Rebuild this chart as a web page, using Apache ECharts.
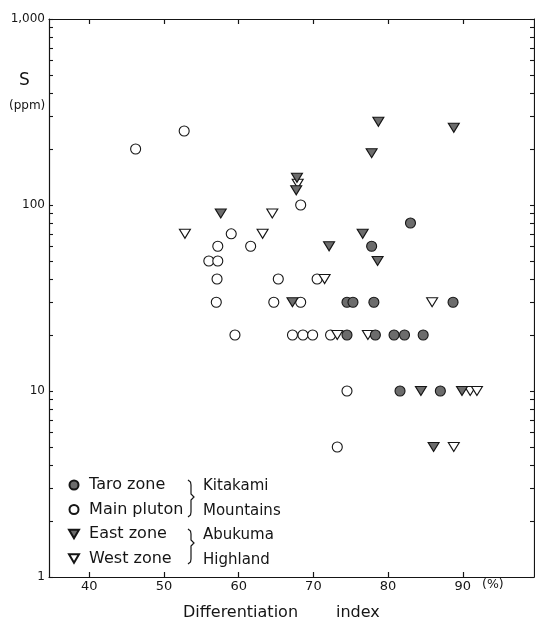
<!DOCTYPE html>
<html>
<head>
<meta charset="utf-8">
<script src="https://cdn.jsdelivr.net/npm/echarts@6/dist/echarts.min.js"></script>
<style>html,body{margin:0;padding:0;background:#fff}#c{width:535px;height:622px}</style>
</head>
<body>
<div id="c"></div>
<script>
// ---- data ----
const taroX = [83.0, 77.8, 74.5, 75.3, 78.1, 88.7, 74.5, 78.3, 80.8, 82.2, 84.7, 81.6, 87.0];
const taroS = [80, 60, 30, 30, 30, 30, 20, 20, 20, 20, 20, 10, 10];

const mainX = [46.2, 52.7, 59.0, 57.2, 61.6, 56.0, 57.2, 57.1, 65.3, 57.0, 64.7, 68.3, 59.5, 67.2, 68.6, 69.9, 72.3, 68.3, 70.5, 74.5, 73.2];
const mainS = [200, 250, 70, 60, 60, 50, 50, 40, 40, 30, 30, 30, 20, 20, 20, 20, 20, 100, 40, 10, 5];

const eastX = [57.6, 67.8, 67.7, 78.7, 88.8, 77.8, 76.6, 72.1, 78.6, 67.2, 84.4, 89.9, 86.1];
const eastS = [90, 140, 120, 280, 260, 190, 70, 60, 50, 30, 10, 10, 5];

const westX = [52.8, 63.2, 64.5, 67.9, 71.5, 85.9, 73.2, 77.3, 91.0, 91.9, 88.8];
const westS = [70, 70, 90, 130, 40, 30, 20, 20, 10, 10, 5];

const xTicks = [40, 50, 60, 70, 80, 90];
const yTickMarks = [1, 2, 3, 4, 5, 6, 7, 8, 9, 10, 20, 30, 40, 50, 60, 70, 80, 90,
                    100, 200, 300, 400, 500, 600, 700, 800, 900, 1000];
const yLabels = [1, 10, 100, 1000];

const seriesNames = ['Taro zone', 'Main pluton', 'East zone', 'West zone'];
const regionNames = ['Kitakami', 'Mountains', 'Abukuma', 'Highland'];

// ---- chart ----
const FONT = 'DejaVu Sans';
const INK = '#151515';
const GRAY = '#6c6c6c';
const DOWN_TRI = 'path://M0,0L10,0L5,8.66Z';
const pairs = (xs, ys) => xs.map((x, i) => [x, ys[i]]);

const chart = echarts.init(document.getElementById('c'), null, {renderer: 'canvas'});

const xCommon = {
  type: 'value', min: 34.6, max: 99.54,
  axisLine: {show: true, lineStyle: {color: INK, width: 1.2}},
  splitLine: {show: false}
};
const yCommon = {
  type: 'log', logBase: 10, min: 1, max: 1000,
  axisLine: {show: true, lineStyle: {color: INK, width: 1.2}},
  splitLine: {show: false},
  minorTick: {show: false}
};

const brace = (x, top, mid, bot) => ({
  type: 'polyline',
  shape: {points: [[x, top], [x + 2.5, top + 2], [x + 3, top + 5], [x + 3, mid - 3], [x + 6, mid],
                   [x + 3, mid + 3], [x + 3, bot - 5], [x + 2.5, bot - 2], [x, bot]]},
  style: {fill: null, stroke: INK, lineWidth: 1.2}
});

const option = {
  animation: false,
  backgroundColor: '#fff',
  grid: {left: 49, right: 1, top: 19, bottom: 45, containLabel: false},
  xAxis: [
    Object.assign({}, xCommon, {
      position: 'bottom',
      axisTick: {show: true, inside: true, length: 5, customValues: xTicks, lineStyle: {color: INK, width: 1.2}},
      axisLabel: {show: true, customValues: xTicks, margin: 3, fontFamily: FONT, fontSize: 13, color: INK}
    }),
    Object.assign({}, xCommon, {
      position: 'top',
      axisTick: {show: true, inside: true, length: 5, customValues: xTicks, lineStyle: {color: INK, width: 1.2}},
      axisLabel: {show: false}
    })
  ],
  yAxis: [
    Object.assign({}, yCommon, {
      position: 'left',
      axisTick: {show: true, inside: true, length: 4, customValues: yTickMarks, lineStyle: {color: INK, width: 1.1}},
      axisLabel: {show: true, customValues: yLabels, margin: 4, fontFamily: FONT, fontSize: 12, color: INK,
        formatter: v => v >= 1000 ? '1,000' : String(v)}
    }),
    Object.assign({}, yCommon, {
      position: 'right',
      axisTick: {show: true, inside: true, length: 4, customValues: yTickMarks, lineStyle: {color: INK, width: 1.1}},
      axisLabel: {show: false}
    })
  ],
  legend: {
    orient: 'vertical', left: 68, top: 475, padding: 0,
    itemWidth: 10, itemHeight: 9, itemGap: 4.5,
    data: [
      {name: seriesNames[0], icon: 'circle'},
      {name: seriesNames[1], icon: 'circle'},
      {name: seriesNames[2], icon: DOWN_TRI},
      {name: seriesNames[3], icon: DOWN_TRI}
    ],
    selectedMode: false,
    formatter: n => ' ' + n,
    textStyle: {fontFamily: FONT, fontSize: 16, color: INK, lineHeight: 20}
  },
  series: [
    {
      name: 'Main pluton', type: 'scatter', data: pairs(mainX, mainS),
      symbol: 'circle', symbolSize: 10,
      itemStyle: {color: '#fff', borderColor: INK, borderWidth: 1.1, opacity: 1}
    },
    {
      name: 'West zone', type: 'scatter', data: pairs(westX, westS),
      symbol: 'triangle', symbolSize: [11, 9], symbolRotate: 180,
      itemStyle: {color: '#fff', borderColor: INK, borderWidth: 1.1, opacity: 1}
    },
    {
      name: 'East zone', type: 'scatter', data: pairs(eastX, eastS),
      symbol: 'triangle', symbolSize: [11, 9], symbolRotate: 180,
      itemStyle: {color: GRAY, borderColor: INK, borderWidth: 1.1, opacity: 1}
    },
    {
      name: 'Taro zone', type: 'scatter', data: pairs(taroX, taroS),
      symbol: 'circle', symbolSize: 10,
      itemStyle: {color: GRAY, borderColor: INK, borderWidth: 1.1, opacity: 1}
    }
  ],
  graphic: [
    {type: 'text', left: 19, top: 72, style: {text: 'S', font: '17px "DejaVu Sans"', fill: INK}},
    {type: 'text', left: 9, top: 100, style: {text: '(ppm)', font: '12px "DejaVu Sans"', fill: INK}},
    {type: 'text', left: 183, top: 605, style: {text: 'Differentiation', font: '16px "DejaVu Sans"', fill: INK}},
    {type: 'text', left: 336, top: 605, style: {text: 'index', font: '16px "DejaVu Sans"', fill: INK}},
    {type: 'text', left: 482, top: 578, style: {text: '(%)', font: '12.5px "DejaVu Sans"', fill: INK}},
    {type: 'text', left: 203, top: 479, style: {text: regionNames[0], font: '15px "DejaVu Sans"', fill: INK}},
    {type: 'text', left: 203, top: 503.5, style: {text: regionNames[1], font: '15px "DejaVu Sans"', fill: INK}},
    {type: 'text', left: 203, top: 528, style: {text: regionNames[2], font: '15px "DejaVu Sans"', fill: INK}},
    {type: 'text', left: 203, top: 552.5, style: {text: regionNames[3], font: '15px "DejaVu Sans"', fill: INK}},
    brace(188, 480, 497, 517),
    brace(188, 529, 543, 564)
  ]
};
chart.setOption(option);
</script>
</body>
</html>
